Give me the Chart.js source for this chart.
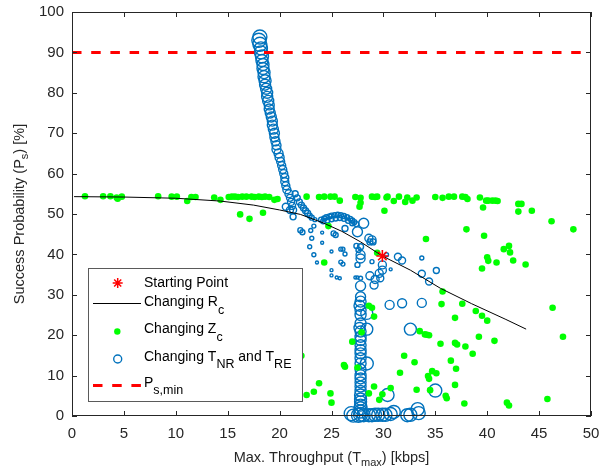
<!DOCTYPE html>
<html><head><meta charset="utf-8">
<script src="https://cdn.jsdelivr.net/npm/chart.js@4.4.1/dist/chart.umd.min.js"></script>
<style>html,body{margin:0;padding:0;background:#fff;}#c{display:block;}</style>
</head><body>
<canvas id="c" width="601" height="474"></canvas>
<script>
// ---------- data ----------
const xTicks = [0,5,10,15,20,25,30,35,40,45,50];
const yTicks = [0,10,20,30,40,50,60,70,80,90,100];
const psMin = 90;
const startPoint = [[29.9, 39.6]];
const rcX = [0.2, 5, 10, 14.3, 17.5, 20, 22, 24.2, 26, 27.8, 29.9, 32.6, 35.5, 38.5, 41.8, 43.75];
const rcY = [54.3, 54.2, 53.9, 53.2, 52.2, 51.0, 49.9, 47.8, 45.7, 43.1, 39.6, 36.1, 31.6, 27.8, 23.9, 21.5];
const zcPoints = [
 [1.25,54.4],[3.0,54.4],[3.7,54.4],[4.3,54.1],[4.4,53.8],[4.8,54.3],[8.3,54.4],[9.6,54.3],[10.1,54.3],[11.1,53.2],
 [11.5,54.2],[11.9,54.2],[13.7,54.1],[14.3,53.5],[15.1,54.2],[15.4,54.3],[15.7,54.3],[16.0,54.2],[16.4,54.3],[16.8,54.3],
 [17.3,54.3],[17.6,54.2],[18.0,54.3],[18.3,54.2],[18.6,54.3],[19.0,54.2],[19.5,53.5],[19.8,53.7],
 [22.6,54.3],[23.8,54.2],[24.3,54.3],[24.9,54.3],[25.3,54.3],[25.8,53.3],[27.3,54.2],[27.8,54.0],[27.8,52.8],
 [28.9,54.3],[29.2,54.2],[29.4,54.3],[30.3,54.1],[30.4,54.3],[31.0,53.2],[31.5,54.3],[32.1,53.0],[32.3,54.1],
 [32.8,53.3],[33.2,54.1],[35.0,54.2],[35.7,54.0],[36.3,54.3],[36.8,54.3],[37.6,54.3],[37.9,54.2],[38.1,53.7],
 [39.3,54.1],[39.6,51.6],[39.9,53.3],[40.1,53.3],[40.5,53.3],[40.8,53.3],[41.0,53.2],[43.0,52.5],[43.3,52.5],
 [16.2,49.9],[17.1,48.8],[18.4,50.3],[24.7,47.0],[24.3,38.0],[27.7,51.8],[30.1,50.8],[34.1,43.8],[29.4,40.4],
 [43.0,50.6],[44.3,50.8],[46.2,48.2],[48.3,46.2],[38.0,46.2],[39.7,44.6],[42.1,42.1],[41.6,41.3],[42.2,40.5],
 [40.0,39.3],[40.1,38.4],[40.9,38.0],[42.5,38.5],[43.7,37.5],[39.5,36.5],[35.7,30.8],[35.6,27.7],[37.6,27.8],
 [38.9,26.0],[39.5,24.8],[36.9,24.3],[46.3,26.8],[40.0,23.6],[47.3,19.6],[33.5,21.0],[34.0,20.2],[34.2,20.1],
 [34.4,20.0],[35.5,17.9],[36.9,18.1],[37.1,17.7],[37.9,17.2],[39.2,19.6],[40.7,18.6],[38.6,15.4],[32.0,14.9],
 [33.0,13.3],[36.5,13.7],[37.0,11.7],[31.6,10.7],[34.7,11.1],[35.1,10.6],[34.3,9.9],[34.4,9.2],[36.9,7.7],
 [30.7,6.9],[33.2,6.5],[34.5,6.4],[36.0,5.0],[36.1,4.4],[37.8,3.1],[41.9,3.3],[42.1,2.6],[45.8,4.2],
 [28.6,27.3],[28.9,26.8],[29.1,24.6],[27.9,20.7],[27.0,18.4],[22.1,14.9],[26.2,12.6],[26.3,12.2],[27.5,12.0],
 [23.8,8.1],[23.3,6.0],[22.6,5.2],[24.9,5.6],[25.0,3.3],[29.1,7.3],[28.6,5.6],[29.9,5.4],[29.6,4.0]
];
const tnrPoints = [
 [18.1,93.8],[18.0,93.0],[18.1,92.0],[18.2,91.0],[18.2,90.0],[18.3,89.0],[18.3,88.0],[18.4,87.0],[18.4,86.0],[18.5,85.0],
 [18.5,84.0],[18.6,83.0],[18.6,82.0],[18.7,81.0],[18.8,80.0],[18.8,79.0],[18.9,78.0],[19.0,77.0],[19.0,76.0],[19.1,75.0],
 [19.2,74.0],[19.3,73.0],[19.3,72.0],[19.4,71.0],[19.5,70.0],[19.5,69.0],[19.6,68.0],[19.7,67.0],[19.7,66.0],[19.9,65.0],
 [20.0,64.0],[20.1,63.0],[20.2,62.0],[20.3,61.0],[20.4,60.0],[20.5,59.0],[20.5,58.0],[20.6,57.0],[20.7,56.0],[20.9,55.0],
 [21.0,54.0],[21.1,53.0],[21.2,52.0],[21.3,51.0],
 [21.5,55.0],[21.7,54.0],[21.9,53.0],[22.1,52.2],[22.3,51.5],[22.5,50.8],[22.7,50.2],[22.9,49.6],[23.1,49.1],[23.4,48.6],
 [20.6,51.8],[21.0,51.0],[21.3,49.3],
 [22.0,46.0],[22.2,45.5],[23.0,45.9],[23.3,47.0],[23.1,44.0],[24.1,45.4],[25.2,45.2],[25.4,44.8],[24.1,42.9],[22.9,41.9],
 [23.3,39.9],[23.6,38.0],[25.0,40.7],[25.9,41.3],[26.1,41.3],[26.3,40.1],[25.9,38.1],[26.1,37.6],[25.0,36.1],[25.0,34.8],
 [25.5,34.3],[25.8,34.1],[27.5,34.3],[27.8,34.1],
 [24.0,48.6],[24.3,48.9],[24.5,49.2],[24.8,49.4],[25.0,49.6],[25.3,49.7],[25.6,49.8],[25.9,49.7],[26.2,49.5],[26.5,49.2],
 [26.8,48.8],[27.0,48.4],[27.2,48.0],[27.4,47.5],[24.2,48.2],[24.6,48.4],[25.0,48.7],[25.4,48.9],[25.8,49.0],[26.2,48.8],
 [26.6,48.3],[27.0,47.7],
 [26.3,46.4],[27.5,45.6],[28.1,47.7],[28.6,44.0],[28.9,43.6],[27.8,41.9],[27.4,42.1],[27.6,41.1],[27.8,39.9],[27.8,39.0],
 [27.5,37.4],[28.9,38.2],[29.9,37.4],[29.9,36.1],[29.6,35.3],[28.7,34.7],[29.2,33.8],[29.1,32.4],[29.7,34.1],[27.8,32.2],
 [27.3,34.3],[28.7,43.1],[29.0,43.1],[30.3,39.9],[31.4,39.4],[31.8,38.5],[33.7,39.1],[35.1,36.0],[33.7,35.2],[34.4,33.3],
 [30.6,27.5],[31.8,27.9],[33.7,28.0],[30.7,36.3],
 [27.8,29.5],[27.8,28.3],[27.7,27.3],[27.8,26.2],[27.8,25.0],[28.4,25.4],[27.8,22.9],[27.7,21.8],[27.8,20.9],[28.4,21.5],
 [27.8,19.6],[27.8,18.8],[27.8,17.5],[27.8,16.3],[27.8,15.5],[27.8,14.3],[27.8,13.0],[28.4,13.0],[27.8,11.5],[27.8,10.1],
 [27.8,9.3],[27.8,8.3],[27.8,7.3],[27.8,6.2],[27.8,5.2],[27.8,4.2],[27.8,3.5],[27.8,2.7],[27.8,1.9],[27.8,1.1],
 [27.8,0.4],[27.6,0.2],[27.1,0.1],[28.1,0.2],[28.6,0.2],[28.9,0.2],[29.2,0.3],[29.5,0.3],[29.9,0.3],[30.2,0.3],
 [30.7,0.5],[31.0,1.0],[32.3,0.2],[32.6,0.3],[33.4,0.7],[33.3,1.7],[30.4,5.2],[35.0,6.3],[32.6,21.5],[26.9,0.6]
];
const tnrSize = [
 7,7,7,6.5,6.5,6.5,6,6,6,6,
 6,6,5.5,5.5,5.5,5.5,5.5,5,5,5,
 5,5,5,5,5,4.5,4.5,4.5,4.5,4.5,
 4.5,4,4,4,4,4,4,4,4,4,
 3.5,3.5,3.5,3.5,
 3,3,3,3,3,3,3,2.5,2.5,2,
 3.5,3.5,3,
 2.5,2.5,2,2,2,1.5,2.5,2.5,1.5,2,
 2,1.5,1.5,2,2,2,2,2,1.5,1.5,
 1.5,1.5,1.5,2,
 2.5,2.5,2.5,2.5,2.5,2.5,2.5,2.5,2.5,2.5,
 2.5,2.5,2.5,2.5,2.5,2.5,2.5,2.5,2.5,2.5,
 2.5,2.5,
 3,5,5,4,4,3,2.5,2.5,4.5,4.5,
 2.5,2,4,4,4,4,4,4,3.5,5,
 1.5,3,3,2,3.5,3.5,2,3,3.5,3.5,
 4.5,4.5,4.5,1.5,
 5,5.5,5.5,5.5,5.5,6,5.5,5.5,5.5,6,
 5.5,5.5,5.5,5.5,5.5,5.5,5.5,6.5,5.5,5.5,
 5.5,5.5,5.5,5.5,6,6,6,6,6.5,6.5,
 7,7,6.5,6.5,6.5,6.5,6.5,6.5,6.5,6.5,
 6.5,6.5,6.5,6.5,6.5,6.5,6.5,6.5,6,7
];

// ---------- styling ----------
const FONT = '"Liberation Sans", Arial, Helvetica, sans-serif';
const AX = '#262626';
const BLUE = '#0072BD';
const GREEN = '#00ff00';
const RED = '#ff0000';

const toXY = a => a.map(p => ({x: p[0], y: p[1]}));

function drawParts(ctx, parts, x, y, size, subSize, subDy, align) {
  let total = 0;
  const widths = parts.map(([t, s]) => { ctx.font = (s ? subSize : size) + 'px ' + FONT; const w = ctx.measureText(t).width; total += w; return w; });
  let cx = align === 'center' ? x - total / 2 : x;
  ctx.textAlign = 'left'; ctx.textBaseline = 'middle';
  parts.forEach(([t, s], i) => {
    ctx.font = (s ? subSize : size) + 'px ' + FONT;
    ctx.fillText(t, cx, s ? y + subDy : y);
    cx += widths[i];
  });
}

const fixArea = {
  id: 'fixArea',
  afterLayout(chart) {
    const a = chart.chartArea;
    a.top = 12; a.bottom = 416; a.left = 72; a.right = 591;
    a.width = a.right - a.left; a.height = a.bottom - a.top;
    const {x, y} = chart.scales;
    x.left = 72; x.right = 591; x.width = 519; x.top = 416; x.bottom = 474; x.height = 58;
    y.top = 12; y.bottom = 416; y.height = 404; y.left = 0; y.right = 72; y.width = 72;
    x.configure(); y.configure();
  }
};

const decor = {
  id: 'decor',
  afterDatasetsDraw(chart) {
    const {ctx, chartArea: a, scales: {x, y}} = chart;
    ctx.save();
    ctx.strokeStyle = AX; ctx.lineWidth = 1;
    ctx.strokeRect(a.left + 0.5, a.top + 0.5, a.right - a.left - 1, a.bottom - a.top - 1);
    ctx.beginPath();
    xTicks.forEach(v => {
      const px = Math.round(x.getPixelForValue(v)) + 0.5;
      ctx.moveTo(px, a.bottom); ctx.lineTo(px, a.bottom - 5);
      ctx.moveTo(px, a.top); ctx.lineTo(px, a.top + 5);
    });
    yTicks.forEach(v => {
      const py = Math.round(y.getPixelForValue(v)) + 0.5;
      ctx.moveTo(a.left, py); ctx.lineTo(a.left + 5, py);
      ctx.moveTo(a.right, py); ctx.lineTo(a.right - 5, py);
    });
    ctx.stroke();
    ctx.restore();
  },
  afterDraw(chart) {
    const {ctx, chartArea: a} = chart;
    ctx.save();
    ctx.fillStyle = AX;
    drawParts(ctx, [['Max. Throughput (T', false], ['max', true], [') [kbps]', false]],
      (a.left + a.right) / 2, 458, 14.5, 11, 5, 'center');
    ctx.save();
    ctx.translate(20, (a.top + a.bottom) / 2);
    ctx.rotate(-Math.PI / 2);
    drawParts(ctx, [['Success Probability (P', false], ['s', true], [') [%]', false]],
      0, 0, 14.5, 11, 5, 'center');
    ctx.restore();

    // legend
    const L = 88, T = 268, W = 214, H = 133;
    ctx.fillStyle = '#ffffff';
    ctx.fillRect(L, T, W, H);
    ctx.strokeStyle = '#5a5a5a'; ctx.lineWidth = 1;
    ctx.strokeRect(L + 0.5, T + 0.5, W, H);
    const tx = 144;
    ctx.fillStyle = '#000';
    const sx = 117.7, sy = 283, sr = 5;
    ctx.strokeStyle = RED; ctx.lineWidth = 1.5;
    ctx.beginPath();
    for (let k = 0; k < 4; k++) {
      const ang = k * Math.PI / 4;
      ctx.moveTo(sx - sr * Math.cos(ang), sy - sr * Math.sin(ang));
      ctx.lineTo(sx + sr * Math.cos(ang), sy + sr * Math.sin(ang));
    }
    ctx.stroke();
    drawParts(ctx, [['Starting Point', false]], tx, 283, 14, 12, 8, 'left');
    ctx.strokeStyle = '#000'; ctx.lineWidth = 1;
    ctx.beginPath(); ctx.moveTo(93, 303.5); ctx.lineTo(141, 303.5); ctx.stroke();
    drawParts(ctx, [['Changing R', false], ['c', true]], tx, 302.5, 14, 12.5, 8, 'left');
    ctx.fillStyle = GREEN;
    ctx.beginPath(); ctx.arc(117.3, 331.5, 3.2, 0, Math.PI * 2); ctx.fill();
    ctx.fillStyle = '#000';
    drawParts(ctx, [['Changing Z', false], ['c', true]], tx, 329.5, 14, 12.5, 8, 'left');
    ctx.strokeStyle = BLUE; ctx.lineWidth = 1.4;
    ctx.beginPath(); ctx.arc(117.7, 359, 4, 0, Math.PI * 2); ctx.stroke();
    drawParts(ctx, [['Changing T', false], ['NR', true], [' and T', false], ['RE', true]], tx, 357, 14, 12.5, 8, 'left');
    ctx.strokeStyle = RED; ctx.lineWidth = 3; ctx.setLineDash([9.5, 9.7]);
    ctx.beginPath(); ctx.moveTo(93, 385.5); ctx.lineTo(141, 385.5); ctx.stroke();
    ctx.setLineDash([]);
    drawParts(ctx, [['P', false], ['s,min', true]], tx, 383, 14, 12.5, 8, 'left');
    ctx.restore();
  }
};

new Chart(document.getElementById('c'), {
  type: 'scatter',
  data: {
    datasets: [
      { label: 'Starting Point', data: toXY(startPoint), pointStyle: 'star', pointRadius: 6,
        borderColor: RED, backgroundColor: RED, borderWidth: 1.6, order: 0 },
      { type: 'line', label: 'P_s,min', data: [{x: 0, y: psMin}, {x: 50, y: psMin}], showLine: true,
        borderColor: RED, borderWidth: 3, borderDash: [9.5, 9.7], pointRadius: 0, fill: false, order: 1 },
      { type: 'line', label: 'Changing R_c', data: rcX.map((v, i) => ({x: v, y: rcY[i]})), showLine: true,
        borderColor: '#000', borderWidth: 1, pointRadius: 0, tension: 0, fill: false, order: 2 },
      { label: 'Changing Z_c', data: toXY(zcPoints), pointRadius: 3.3, pointStyle: 'circle',
        backgroundColor: GREEN, borderColor: GREEN, borderWidth: 0, order: 3 },
      { label: 'Changing T_NR and T_RE', data: toXY(tnrPoints), pointStyle: 'circle',
        pointRadius: ctx => tnrSize[ctx.dataIndex] || 4,
        backgroundColor: 'rgba(0,0,0,0)', borderColor: BLUE, borderWidth: 1.4, clip: false, order: 4 }
    ]
  },
  options: {
    responsive: false, animation: false, events: [],
    layout: { padding: { top: 12, right: 10, left: 0, bottom: 0 } },
    plugins: { legend: { display: false }, tooltip: { enabled: false } },
    scales: {
      x: { type: 'linear', min: 0, max: 50,
        afterBuildTicks: s => { s.ticks = xTicks.map(v => ({value: v})); },
        afterFit: s => { s.height = 58; },
        grid: { display: false, drawTicks: false }, border: { display: false },
        ticks: { padding: 9, color: AX, font: { family: FONT, size: 15 } } },
      y: { type: 'linear', min: 0, max: 100,
        afterBuildTicks: s => { s.ticks = yTicks.map(v => ({value: v})); },
        afterFit: s => { s.width = 72; },
        grid: { display: false, drawTicks: false }, border: { display: false },
        ticks: { padding: 8, color: AX, font: { family: FONT, size: 15 } } }
    }
  },
  plugins: [fixArea, decor]
});
</script>
</body></html>
